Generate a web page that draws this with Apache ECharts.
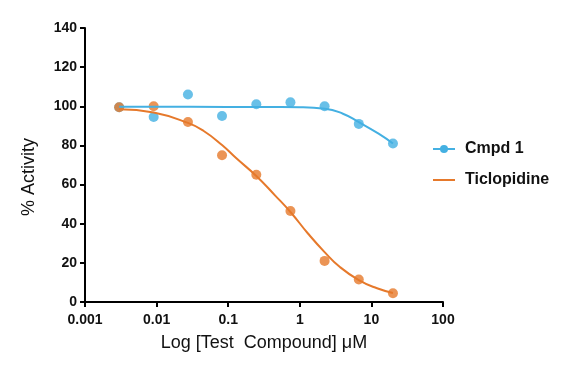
<!DOCTYPE html>
<html><head><meta charset="utf-8">
<script src="https://cdn.jsdelivr.net/npm/echarts@6/dist/echarts.min.js"></script>
<style>html,body{margin:0;padding:0;background:#fff}#c{width:562px;height:366px}</style>
</head><body><div id="c"></div>
<script>
// concentrations (µM), 3-fold dilution series
const conc = [0.003, 0.0091, 0.0274, 0.082, 0.247, 0.74, 2.22, 6.67, 20];
const cmpd1 = [99.5, 94.5, 106, 95, 101, 102, 100, 91, 81];
const ticlo = [99.5, 100, 92, 75, 65, 46.5, 21, 11.5, 4.5];
// fitted curves
const cmpd1CurveX = [0.003, 0.03, 0.3, 1, 2.24, 4, 6.6, 12.6, 20];
const cmpd1CurveY = [99.7, 99.7, 99.6, 99.5, 98.8, 96.2, 92, 86, 81];
const ticloCurveX = [0.003, 0.0091, 0.0274, 0.045, 0.082, 0.13, 0.247, 0.45, 0.74, 1.3, 2.22, 3.6, 6.67, 12, 20];
const ticloCurveY = [98.5, 96.8, 91.5, 87.5, 80.2, 73.4, 64.4, 54.5, 46, 35, 25.5, 18, 11.2, 7, 4.6];
const yTicks = [0, 20, 40, 60, 80, 100, 120, 140];
const xTickLabels = ['0.001', '0.01', '0.1', '1', '10', '100'];

const blue = '#44b0e2', orange = '#e6792b';
const font = 'Liberation Sans';
const zip = (a, b) => a.map((v, i) => [v, b[i]]);
const chart = echarts.init(document.getElementById('c'));
chart.setOption({
  animation: false,
  grid: { left: 85, right: 119, top: 28, bottom: 64 },
  legend: {
    data: ['Cmpd 1', { name: 'Ticlopidine', itemStyle: { opacity: 0 } }],
    orient: 'vertical', left: 432, top: 141, padding: 0,
    itemWidth: 22, itemHeight: 10, itemGap: 15,
    textStyle: { fontFamily: font, fontSize: 16, fontWeight: 'bold', color: '#111', padding: [0, 0, 0, 5] }
  },
  xAxis: {
    type: 'log', logBase: 10, min: 0.001, max: 100,
    name: 'Log [Test  Compound] \u03bcM', nameLocation: 'middle', nameGap: 32,
    nameTextStyle: { fontFamily: font, fontSize: 18, color: '#111' },
    axisLine: { lineStyle: { color: '#000', width: 2 } },
    axisTick: { length: 5, lineStyle: { width: 2, color: '#000' } },
    axisLabel: { margin: 11, fontFamily: font, fontSize: 14, fontWeight: 'bold', color: '#111',
      formatter: v => xTickLabels[Math.round(Math.log10(v)) + 3] },
    splitLine: { show: false }
  },
  yAxis: {
    type: 'value', min: 0, max: 140, interval: 20,
    name: '% Activity', nameLocation: 'middle', nameGap: 47, nameRotate: 90,
    nameTextStyle: { fontFamily: font, fontSize: 18, color: '#111', padding: [0, 24, 0, 0] },
    axisLine: { show: true, lineStyle: { color: '#000', width: 2 } },
    axisTick: { show: true, length: 5, lineStyle: { width: 2, color: '#000' } },
    axisLabel: { margin: 8, fontFamily: font, fontSize: 14, fontWeight: 'bold', color: '#111',
      formatter: v => yTicks.includes(v) ? String(v) : '' },
    splitLine: { show: false }
  },
  series: [
    { name: 'Cmpd 1', type: 'line', smooth: true, data: zip(cmpd1CurveX, cmpd1CurveY),
      symbol: 'circle', symbolSize: 9, showSymbol: false, color: blue, lineStyle: { width: 2, color: blue } },
    { name: 'Ticlopidine', type: 'line', smooth: true, data: zip(ticloCurveX, ticloCurveY),
      symbol: 'none', color: orange, lineStyle: { width: 2, color: orange } },
    { name: 'Cmpd 1 data', type: 'scatter', data: zip(conc, cmpd1), symbolSize: 10, itemStyle: { color: blue } },
    { name: 'Ticlopidine data', type: 'scatter', data: zip(conc, ticlo), symbolSize: 10, itemStyle: { color: orange } }
  ]
});
</script></body></html>
